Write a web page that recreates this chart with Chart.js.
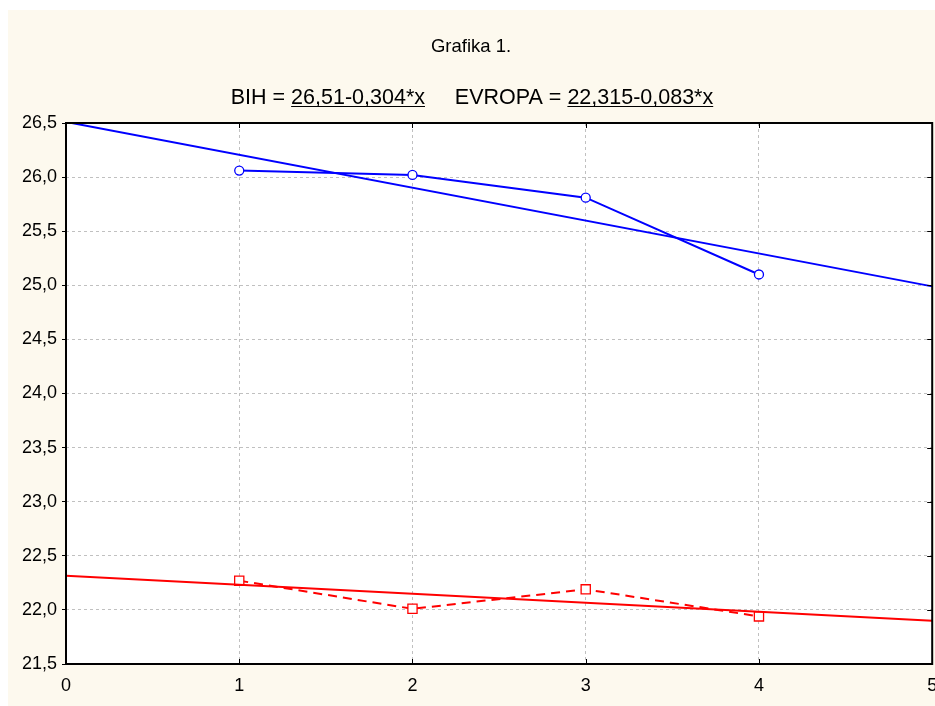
<!DOCTYPE html>
<html>
<head>
<meta charset="utf-8">
<script src="https://cdn.jsdelivr.net/npm/chart.js@4.4.1/dist/chart.umd.min.js"></script>
<style>
  html, body { margin: 0; padding: 0; background: #ffffff; overflow: hidden; }
  #wrap { position: absolute; left: 0; top: 0; width: 935px; height: 706px; overflow: hidden; }
</style>
</head>
<body>
<div id="wrap"><canvas id="c" width="940" height="706"></canvas></div>
<script>
// ---- data ----
const titleText = 'Grafika 1.';
const subtitleParts = [
  { text: 'BIH = ', underline: false },
  { text: '26,51-0,304*x', underline: true },
  { text: '     EVROPA = ', underline: false },
  { text: '22,315-0,083*x', underline: true }
];
const xValues = [1, 2, 3, 4];
const bihValues = [26.06, 26.02, 25.81, 25.10];
const evropaValues = [22.27, 22.01, 22.19, 21.94];
const fitX = [0, 5];
const bihFitValues = [26.51, 24.99];
const evropaFitValues = [22.315, 21.9];
const xTickValues = [0, 1, 2, 3, 4, 5];
const yTickValues = [21.5, 22.0, 22.5, 23.0, 23.5, 24.0, 24.5, 25.0, 25.5, 26.0, 26.5];

const FONT = '"Liberation Sans", Arial, sans-serif';
const pts = (xs, ys) => xs.map((x, i) => ({ x: x, y: ys[i] }));

const framePlugin = {
  id: 'frame',
  beforeDraw(chart) {
    const ctx = chart.ctx, a = chart.chartArea;
    ctx.save();
    ctx.fillStyle = '#fdf9ee';
    ctx.fillRect(8, 10, chart.width - 8, chart.height - 10);
    ctx.fillStyle = '#ffffff';
    ctx.fillRect(a.left, a.top, a.right - a.left, a.bottom - a.top);
    ctx.restore();
  },
  afterDraw(chart) {
    const ctx = chart.ctx, a = chart.chartArea;
    const xs = chart.scales.x, ys = chart.scales.y;
    ctx.save();
    ctx.strokeStyle = '#000';
    ctx.lineWidth = 1;
    ctx.beginPath();
    xTickValues.forEach(v => {
      const px = Math.round(xs.getPixelForValue(v)) + 0.5;
      ctx.moveTo(px, a.top); ctx.lineTo(px, a.top + 5);
      ctx.moveTo(px, a.bottom); ctx.lineTo(px, a.bottom - 5);
    });
    yTickValues.forEach(v => {
      const py = Math.round(ys.getPixelForValue(v)) + 0.5;
      ctx.moveTo(a.right, py); ctx.lineTo(a.right - 5, py);
    });
    ctx.stroke();
    ctx.lineWidth = 2;
    ctx.strokeRect(a.left, a.top, a.right - a.left, a.bottom - a.top);

    ctx.fillStyle = '#000';
    ctx.textBaseline = 'alphabetic';
    ctx.font = '18.5px ' + FONT;
    ctx.textAlign = 'center';
    ctx.fillText(titleText, 471, 52);
    ctx.font = '21.5px ' + FONT;
    ctx.textAlign = 'left';
    let total = 0;
    subtitleParts.forEach(p => total += ctx.measureText(p.text).width);
    let x = 472 - total / 2;
    const base = 104;
    subtitleParts.forEach(p => {
      const w = ctx.measureText(p.text).width;
      ctx.fillText(p.text, x, base);
      if (p.underline) ctx.fillRect(x, base + 2, w, 1);
      x += w;
    });
    ctx.restore();
  }
};

new Chart(document.getElementById('c'), {
  type: 'scatter',
  data: {
    datasets: [
      {
        label: 'BIH fit',
        data: pts(fitX, bihFitValues),
        showLine: true,
        borderColor: '#0000ff',
        borderWidth: 2,
        pointRadius: 0,
        fill: false
      },
      {
        label: 'EVROPA fit',
        data: pts(fitX, evropaFitValues),
        showLine: true,
        borderColor: '#ff0000',
        borderWidth: 2,
        pointRadius: 0,
        fill: false
      },
      {
        label: 'BIH',
        data: pts(xValues, bihValues),
        showLine: true,
        borderColor: '#0000ff',
        borderWidth: 2,
        pointStyle: 'circle',
        pointRadius: 4.5,
        pointBorderWidth: 1.3,
        pointBackgroundColor: '#ffffff',
        pointBorderColor: '#0000ff',
        fill: false
      },
      {
        label: 'EVROPA',
        data: pts(xValues, evropaValues),
        showLine: true,
        borderColor: '#ff0000',
        borderWidth: 2,
        borderDash: [9, 6],
        pointStyle: 'rect',
        pointRadius: 6.5,
        pointBorderWidth: 1.3,
        pointBackgroundColor: '#ffffff',
        pointBorderColor: '#ff0000',
        fill: false
      }
    ]
  },
  options: {
    responsive: false,
    animation: false,
    events: [],
    layout: { padding: { left: 0, top: 123, right: 3, bottom: 0 } },
    plugins: { legend: { display: false }, title: { display: false }, tooltip: { enabled: false } },
    scales: {
      x: {
        type: 'linear',
        min: 0, max: 5,
        afterBuildTicks(scale) { scale.ticks = xTickValues.map(v => ({ value: v })); },
        ticks: {
          color: '#000',
          font: { family: FONT, size: 18 },
          padding: 11,
          maxRotation: 0,
          callback: v => String(v)
        },
        grid: { color: '#c0c0c0', lineWidth: 1, drawTicks: false },
        border: { display: false, dash: [3, 3] },
        afterFit(scale) { scale.height = 42; scale.paddingLeft = 0; scale.paddingRight = 0; }
      },
      y: {
        type: 'linear',
        min: 21.5, max: 26.5,
        afterBuildTicks(scale) { scale.ticks = yTickValues.map(v => ({ value: v })); },
        ticks: {
          color: '#000',
          font: { family: FONT, size: 18 },
          padding: 5,
          callback: v => Number(v).toFixed(1).replace('.', ',')
        },
        grid: {
          color: '#c0c0c0', lineWidth: 1,
          drawTicks: true, tickLength: 4, tickColor: '#000', tickBorderDash: [], tickWidth: 1
        },
        border: { display: false, dash: [3, 3] },
        afterFit(scale) { scale.width = 66; scale.paddingTop = 0; scale.paddingBottom = 0; }
      }
    }
  },
  plugins: [framePlugin]
});
</script>
</body>
</html>
